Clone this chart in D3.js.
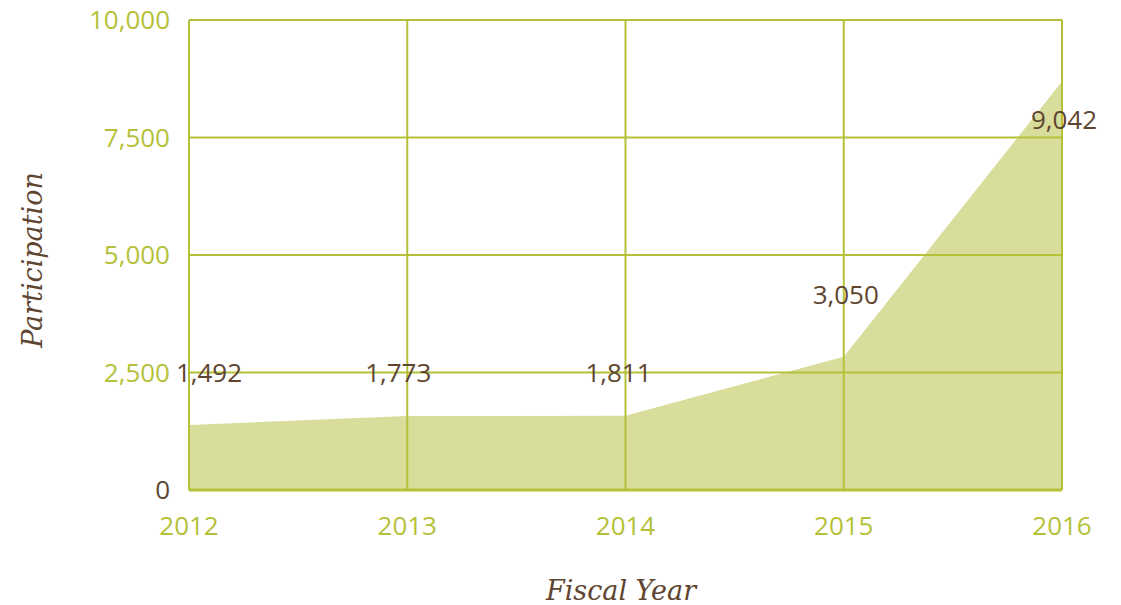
<!DOCTYPE html>
<html>
<head>
<meta charset="utf-8">
<script src="https://cdn.jsdelivr.net/npm/d3@7"></script>
<style>
  body { margin: 0; background: #fff; }
  svg { display: block; }
</style>
</head>
<body>
<div id="chart"></div>
<script>
// data
var years = ["2012", "2013", "2014", "2015", "2016"];
var areaValues = [1383, 1574, 1580, 2836, 8690];
var labelValues = [1492, 1773, 1811, 3050, 9042];
var yTicks = [0, 2500, 5000, 7500, 10000];

var width = 1121, height = 605;
var margin = {top: 20, right: 59, bottom: 115, left: 189};

var green = "#b4c138";
var fillGreen = "#d8dd9b";
var brown = "#5e4530";

var svg = d3.select("#chart").append("svg")
    .attr("width", width)
    .attr("height", height);

var x = d3.scalePoint()
    .domain(years)
    .range([margin.left, width - margin.right]);

var y = d3.scaleLinear()
    .domain([0, 10000])
    .range([height - margin.bottom, margin.top]);

var fmt = d3.format(",");

// area first, grid goes on top of it
var area = d3.area()
    .x(function(d, i) { return x(years[i]); })
    .y0(y(0))
    .y1(function(d) { return y(d); });

svg.append("path")
    .datum(areaValues)
    .attr("d", area)
    .attr("fill", fillGreen);

// horizontal grid
svg.append("g")
    .selectAll("line")
    .data(yTicks)
    .join("line")
    .attr("x1", x.range()[0])
    .attr("x2", x.range()[1])
    .attr("y1", d => y(d))
    .attr("y2", d => y(d))
    .attr("stroke", green)
    .attr("stroke-width", d => d == 0 ? 3 : 2);

// vertical grid
svg.append("g")
    .selectAll("line")
    .data(years)
    .join("line")
    .attr("x1", d => x(d))
    .attr("x2", d => x(d))
    .attr("y1", y(10000))
    .attr("y2", y(0))
    .attr("stroke", green)
    .attr("stroke-width", 2);

// y tick labels
svg.append("g")
    .selectAll("text")
    .data(yTicks)
    .join("text")
    .attr("x", 170)
    .attr("y", d => y(d))
    .attr("dy", "0.35em")
    .attr("text-anchor", "end")
    .attr("font-family", "'Open Sans', sans-serif")
    .attr("font-size", 26)
    .attr("fill", d => d == 0 ? brown : green)
    .text(d => fmt(d));

// x tick labels
svg.append("g")
    .selectAll("text")
    .data(years)
    .join("text")
    .attr("x", d => x(d))
    .attr("y", 535)
    .attr("text-anchor", "middle")
    .attr("font-family", "'Open Sans', sans-serif")
    .attr("font-size", 26)
    .attr("fill", green)
    .text(d => d);

// value labels (placed in data units, as in the original)
var labelAt = [2500, 2500, 2500, 4150, 7870];
var labelDx = [20, -9, -7, 2, 2];

svg.append("g")
    .selectAll("text")
    .data(labelValues)
    .join("text")
    .attr("x", (d, i) => x(years[i]) + labelDx[i])
    .attr("y", (d, i) => y(labelAt[i]))
    .attr("dy", "0.35em")
    .attr("text-anchor", "middle")
    .attr("font-family", "'Open Sans', sans-serif")
    .attr("font-size", 26)
    .attr("fill", brown)
    .text(d => fmt(d));

// axis titles
svg.append("text")
    .attr("x", 621)
    .attr("y", 600)
    .attr("text-anchor", "middle")
    .attr("font-family", "'DejaVu Serif', serif")
    .attr("font-style", "italic")
    .attr("font-size", 27)
    .attr("fill", brown)
    .text("Fiscal Year");

svg.append("text")
    .attr("transform", "translate(42,260) rotate(-90)")
    .attr("text-anchor", "middle")
    .attr("font-family", "'DejaVu Serif', serif")
    .attr("font-style", "italic")
    .attr("font-size", 27)
    .attr("fill", brown)
    .text("Participation");
</script>
</body>
</html>
